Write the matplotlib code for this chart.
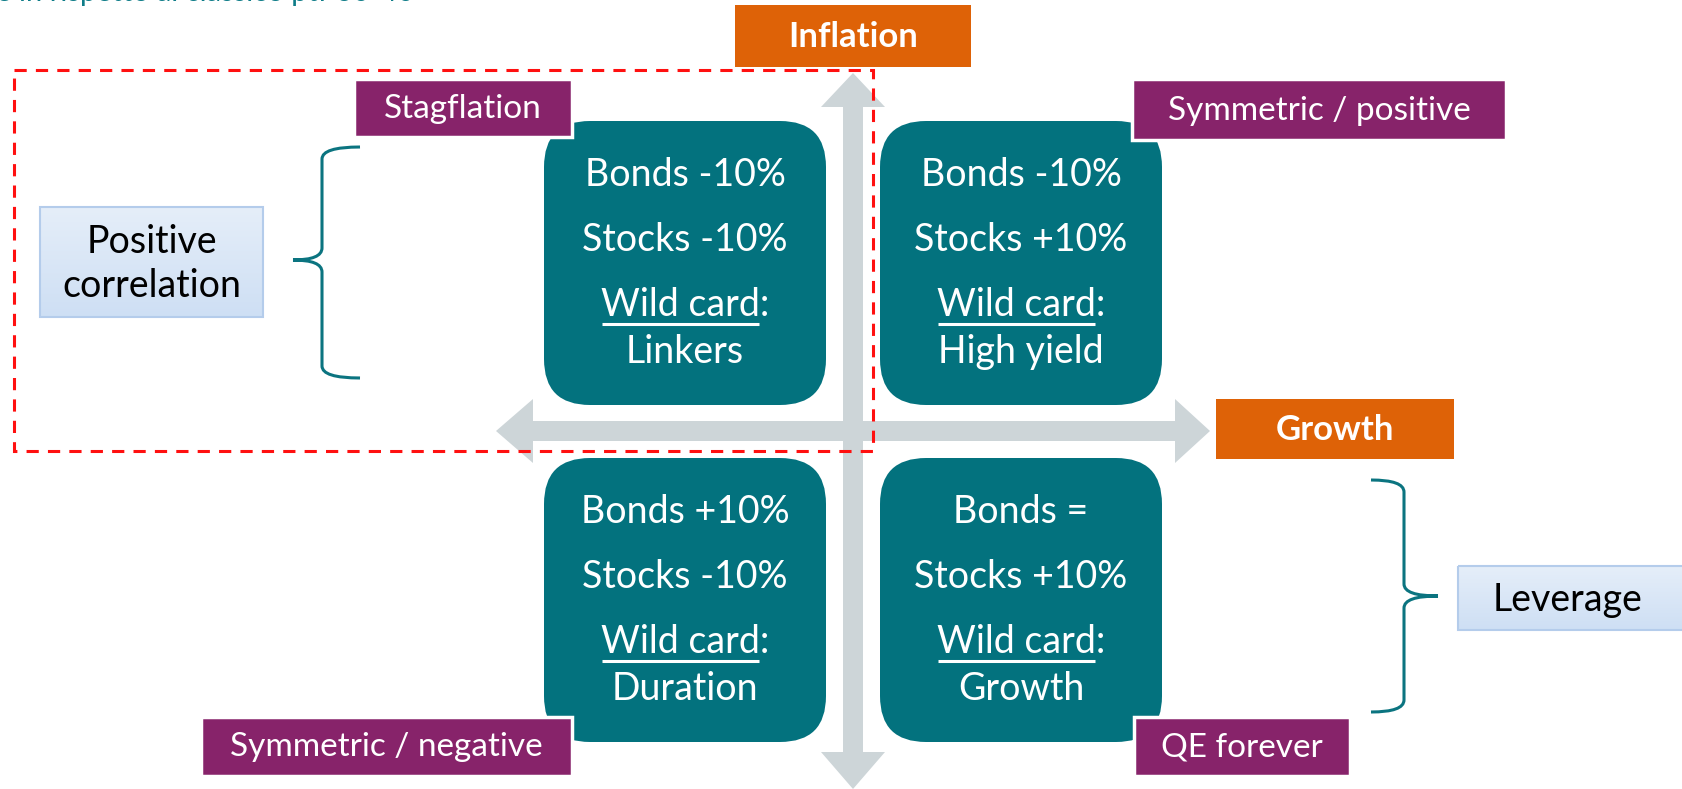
import matplotlib
matplotlib.use("Agg")
import matplotlib.pyplot as plt
import numpy as np
from matplotlib.patches import FancyBboxPatch, Rectangle, Polygon, PathPatch
from matplotlib.path import Path
from matplotlib.colors import LinearSegmentedColormap

# ---------------- data ----------------
quad_bonds = ["Bonds -10%", "Bonds -10%", "Bonds +10%", "Bonds ="]
quad_stocks = ["Stocks -10%", "Stocks +10%", "Stocks -10%", "Stocks +10%"]
quad_wild = ["Linkers", "High yield", "Duration", "Growth"]
regime_labels = ["Stagflation", "Symmetric / positive", "Symmetric / negative", "QE forever"]
axis_labels = ["Inflation", "Growth"]
side_labels = ["Positive\ncorrelation", "Leverage"]
header_text = "anche in rispetto al classico ptf 60-40"

# ---------------- style ----------------
TEAL = "#03727E"
PURPLE = "#87236A"
ORANGE = "#DE6207"
GREY = "#CDD5D8"
FONT = "Lato"

W, H = 1683, 789
fig = plt.figure(figsize=(W / 100, H / 100), dpi=100)
ax = fig.add_axes([0, 0, 1, 1])
ax.set_xlim(0, W)
ax.set_ylim(H, 0)
ax.axis("off")

# clipped header (only the bottom of the glyphs is visible, as in the reference)
ax.text(414, 1, header_text, ha="right", va="baseline", color="#0E7C88",
        fontsize=21, family=FONT, zorder=5)

# axes arrows
cx, cy = 853, 431
sh = 10  # half shaft
hw = 32  # half head width
v = [(cx, 73), (cx + hw, 107), (cx + sh, 107), (cx + sh, 752), (cx + hw, 752),
     (cx, 789), (cx - hw, 752), (cx - sh, 752), (cx - sh, 107), (cx - hw, 107)]
ax.add_patch(Polygon(v, closed=True, facecolor=GREY, edgecolor="none", zorder=1))
h = [(496, cy), (533, cy - hw), (533, cy - sh), (1175, cy - sh), (1175, cy - hw),
     (1210, cy), (1175, cy + hw), (1175, cy + sh), (533, cy + sh), (533, cy + hw)]
ax.add_patch(Polygon(h, closed=True, facecolor=GREY, edgecolor="none", zorder=1))

# quadrant boxes
boxes = [(544, 121), (880, 121), (544, 458), (880, 458)]
bw, bh = 282, 284
fig.canvas.draw()
renderer = fig.canvas.get_renderer()
inv = ax.transData.inverted()
for i, (x0, y0) in enumerate(boxes):
    p = FancyBboxPatch((x0, y0), bw, bh, boxstyle="round,pad=0,rounding_size=46",
                       facecolor=TEAL, edgecolor="none", zorder=2)
    ax.add_patch(p)
    xc = x0 + bw / 2
    kw = dict(ha="center", va="center", color="white", fontsize=27, family=FONT, zorder=3)
    ax.text(xc, y0 + 54, quad_bonds[i], **kw)
    ax.text(xc, y0 + 119, quad_stocks[i], **kw)
    t = ax.text(xc, y0 + 184, "Wild card:", **kw)
    ax.text(xc, y0 + 231, quad_wild[i], **kw)
    # underline "Wild card"
    bb_full = t.get_window_extent(renderer)
    tmp = ax.text(0, 0, "Wild card", fontsize=27, family=FONT)
    wc = tmp.get_window_extent(renderer).width
    tmp.remove()
    xl = inv.transform((bb_full.x0, 0))[0]
    xr = inv.transform((bb_full.x0 + wc, 0))[0]
    ax.plot([xl + 1, xr - 1], [y0 + 203, y0 + 203], color="white", lw=2.2, zorder=3,
            solid_capstyle="butt")

# regime labels (purple)
reg_pos = [(354, 79, 218, 58), (1132, 79, 374, 61), (201, 717, 371, 59), (1134, 717, 216, 59)]
for lab, (x0, y0, w, hh) in zip(regime_labels, reg_pos):
    ax.add_patch(Rectangle((x0, y0), w, hh, facecolor=PURPLE, edgecolor="white", lw=2.5, zorder=4))
    ax.text(x0 + w / 2, y0 + hh / 2 + 1, lab, ha="center", va="center", color="white",
            fontsize=24, family=FONT, zorder=5)

# axis labels (orange)
ax_pos = [(735, 5, 236, 62), (1216, 399, 238, 60)]
for lab, (x0, y0, w, hh) in zip(axis_labels, ax_pos):
    ax.add_patch(Rectangle((x0, y0), w, hh, facecolor=ORANGE, edgecolor="none", zorder=4))
    ax.text(x0 + w / 2, y0 + hh / 2 + 1, lab, ha="center", va="center", color="white",
            fontsize=25, family=FONT, fontweight="bold", zorder=5)

# side labels (light blue gradient)
side_pos = [(40, 207, 223, 110), (1458, 566, 240, 64)]
grad = np.linspace(0, 1, 100).reshape(-1, 1)
cmap = LinearSegmentedColormap.from_list("lb", ["#E5EEF9", "#CEDFF4"])
for lab, (x0, y0, w, hh) in zip(side_labels, side_pos):
    ax.imshow(grad, extent=[x0, x0 + w, y0 + hh, y0], cmap=cmap, aspect="auto", zorder=2,
              interpolation="bilinear")
    ax.add_patch(Rectangle((x0, y0), w, hh, facecolor="none", edgecolor="#B4CCEB", lw=1.5, zorder=3))
    tx = x0 + w / 2 if w < 230 else x0 + 110
    ax.text(tx, y0 + hh / 2 + 2, lab, ha="center", va="center", color="black",
            fontsize=27, family=FONT, linespacing=1.3, zorder=4)
ax.set_xlim(0, W)
ax.set_ylim(H, 0)

# braces
def brace(x_end, x_bar, x_tip, y_top, y_bot, y_tip):
    c = 12
    verts = [(x_end, y_top), (x_bar, y_top), (x_bar, y_top + c), (x_bar, y_top + c + 5),
             (x_bar, y_tip - c),
             (x_bar, y_tip), (x_tip, y_tip), (x_tip, y_tip),
             (x_tip, y_tip), (x_bar, y_tip), (x_bar, y_tip + c),
             (x_bar, y_bot - c - 5),
             (x_bar, y_bot - c), (x_bar, y_bot), (x_end, y_bot)]
    codes = [Path.MOVETO, Path.CURVE3, Path.CURVE3, Path.LINETO, Path.LINETO,
             Path.CURVE3, Path.CURVE3, Path.LINETO,
             Path.MOVETO, Path.CURVE3, Path.CURVE3,
             Path.LINETO,
             Path.LINETO, Path.CURVE3, Path.CURVE3]
    ax.add_patch(PathPatch(Path(verts, codes), facecolor="none", edgecolor="#0B7480",
                           lw=2.2, zorder=3))

brace(360, 322, 293, 147, 378, 260)
brace(1371, 1404, 1438, 480, 712, 596)

# red dashed rectangle
ax.add_patch(Rectangle((14, 70), 859, 381, facecolor="none", edgecolor="#FF1010",
                       lw=2.2, ls=(0, (4, 3)), zorder=6))

fig.savefig("out.png", dpi=100)
